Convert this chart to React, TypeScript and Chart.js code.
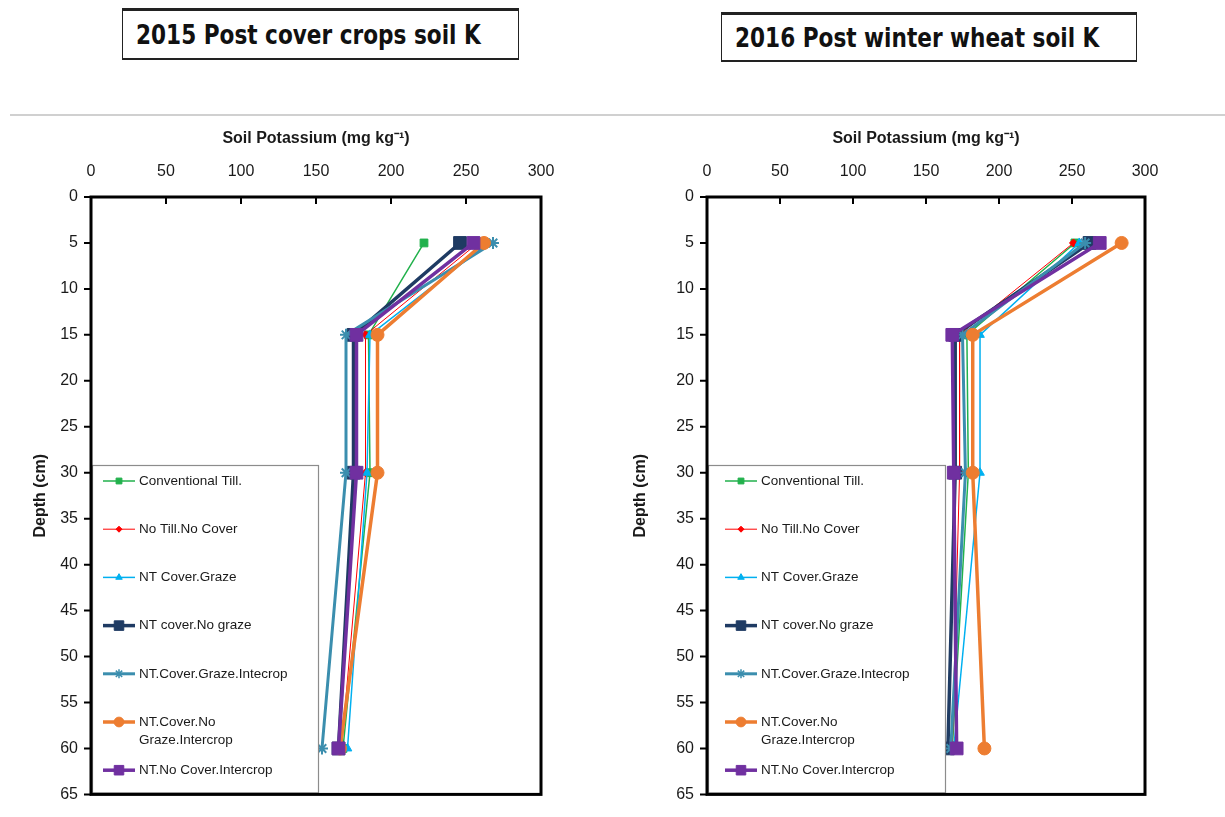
import React, { useEffect, useRef } from 'react';
import { Chart, registerables } from 'chart.js';
import { drawPoint } from 'chart.js/helpers';

Chart.register(...registerables);

// ---- data ----
const depthCm = [5, 15, 30, 60];
const depthTicks = [0, 5, 10, 15, 20, 25, 30, 35, 40, 45, 50, 55, 60, 65];
const potassiumTicks = [0, 50, 100, 150, 200, 250, 300];

const seriesNames = [
  'Conventional Till.',
  'No Till.No Cover',
  'NT Cover.Graze',
  'NT cover.No graze',
  'NT.Cover.Graze.Intecrop',
  'NT.Cover.No\nGraze.Intercrop',
  'NT.No Cover.Intercrop',
];

// 2015 Post cover crops soil K (mg/kg) at depths 5, 15, 30, 60 cm
const ct2015 = [222, 185, 186, 168];
const ntnc2015 = [258, 183, 183, 167];
const ntcg2015 = [265, 186, 184, 171];
const ntcng2015 = [246, 175, 175, 165];
const ntcgi2015 = [268, 170, 170, 154];
const ntcngi2015 = [262, 191, 191, 166];
const ntnci2015 = [255, 177, 177, 165];

// 2016 Post winter wheat soil K (mg/kg)
const ct2016 = [252, 178, 179, 168];
const ntnc2016 = [251, 173, 173, 168];
const ntcg2016 = [255, 187, 187, 169];
const ntcng2016 = [262, 170, 170, 165];
const ntcgi2016 = [259, 175, 177, 167];
const ntcngi2016 = [284, 182, 182, 190];
const ntnci2016 = [269, 168, 169, 171];

const series2015 = [ct2015, ntnc2015, ntcg2015, ntcng2015, ntcgi2015, ntcngi2015, ntnci2015];
const series2016 = [ct2016, ntnc2016, ntcg2016, ntcng2016, ntcgi2016, ntcngi2016, ntnci2016];

// ---- styles ----
const colors = ['#22B14C', '#FF0000', '#00B0F0', '#1F3B63', '#3B8EAE', '#ED7D31', '#7030A0'];
const lineWidths = [1.5, 1, 1.5, 3.5, 3, 3.5, 3.5];
const pointStyles = ['rect', 'rectRot', 'triangle', 'rect', 'star', 'circle', 'rect'];
const pointRadii = [5.5, 4, 5, 9, 6, 6.5, 9];

const tickFont = { family: '"Liberation Sans", Arial, sans-serif', size: 16 };
const titleFont = { family: '"Liberation Sans", Arial, sans-serif', size: 16, weight: 'bold' as const };

const decorPlugin = {
  id: 'panelDecor',
  afterDatasetsDraw(chart: any, _args: any, opts: any) {
    const { ctx, chartArea: a, scales } = chart;
    ctx.save();
    // legend box inside plot area
    const lx = a.left + 1;
    const ly = a.top + 268;
    const lw = opts.legendWidth;
    const lh = a.bottom - 2 - ly;
    ctx.fillStyle = '#ffffff';
    ctx.fillRect(lx, ly, lw, lh);
    ctx.strokeStyle = '#8c8c8c';
    ctx.lineWidth = 1.2;
    ctx.strokeRect(lx + 0.5, ly + 0.5, lw, lh);
    chart.data.datasets.forEach((ds: any, i: number) => {
      const y = ly + 16 + i * 48.2;
      const x0 = lx + opts.lineOffset;
      ctx.strokeStyle = ds.borderColor;
      ctx.lineWidth = ds.borderWidth;
      ctx.beginPath();
      ctx.moveTo(x0, y);
      ctx.lineTo(x0 + 32, y);
      ctx.stroke();
      ctx.fillStyle = ds.pointBackgroundColor;
      ctx.strokeStyle = ds.pointBorderColor;
      ctx.lineWidth = ds.pointStyle === 'star' ? 1.5 : 1;
      drawPoint(ctx, { pointStyle: ds.pointStyle, rotation: 0, radius: ds.pointRadius * 0.75, borderWidth: ctx.lineWidth } as any, x0 + 16, y);
      ctx.fillStyle = '#1a1a1a';
      ctx.font = '13.5px "Liberation Sans", Arial, sans-serif';
      ctx.textBaseline = 'middle';
      ctx.textAlign = 'left';
      String(ds.label).split('\n').forEach((t, k) => ctx.fillText(t, x0 + 36, y + k * 18));
    });
    // frame
    ctx.strokeStyle = '#000';
    ctx.lineWidth = 3;
    ctx.strokeRect(a.left, a.top, a.right - a.left, a.bottom - a.top);
    // tick marks
    ctx.lineWidth = 2;
    ctx.beginPath();
    scales.x.ticks.forEach((t: any) => {
      const px = scales.x.getPixelForValue(t.value);
      ctx.moveTo(px, a.top);
      ctx.lineTo(px, a.top + 7);
    });
    scales.y.ticks.forEach((t: any) => {
      const py = scales.y.getPixelForValue(t.value);
      ctx.moveTo(a.left - 7, py);
      ctx.lineTo(a.left, py);
    });
    ctx.stroke();
    ctx.restore();
  },
};

type PanelProps = {
  values: number[][];
  left: number;
  width: number;
  yAxisWidth: number;
  legendWidth: number;
  lineOffset: number;
  padRight: number;
};

function Panel({ values, left, width, yAxisWidth, legendWidth, lineOffset, padRight }: PanelProps) {
  const ref = useRef<HTMLCanvasElement | null>(null);
  useEffect(() => {
    if (!ref.current) return;
    const n = seriesNames.length;
    const chart = new Chart(ref.current, {
      type: 'scatter',
      data: {
        datasets: seriesNames.map((name, i) => ({
          label: name,
          data: depthCm.map((d, j) => ({ x: values[i][j], y: d })),
          showLine: true,
          borderColor: colors[i],
          backgroundColor: colors[i],
          pointBackgroundColor: colors[i],
          pointBorderColor: colors[i],
          borderWidth: lineWidths[i],
          pointStyle: pointStyles[i] as any,
          pointRadius: pointRadii[i],
          pointBorderWidth: pointStyles[i] === 'star' ? 2 : 1,
          tension: 0,
          order: n - i,
        })),
      },
      options: {
        responsive: false,
        animation: false,
        layout: { padding: { left: 27, right: padRight, top: 0, bottom: 14 } },
        plugins: {
          legend: { display: false },
          tooltip: { enabled: false },
          panelDecor: { legendWidth, lineOffset },
        } as any,
        scales: {
          x: {
            type: 'linear',
            position: 'top',
            min: 0,
            max: 300,
            afterBuildTicks: (s: any) => { s.ticks = potassiumTicks.map((v) => ({ value: v })); },
            afterFit: (s: any) => { s.height = 77; },
            grid: { display: false, drawTicks: false },
            border: { display: false },
            ticks: { font: tickFont, color: '#1a1a1a', padding: 16, maxRotation: 0 },
            title: {
              display: true,
              text: 'Soil Potassium (mg kg⁻¹)',
              font: titleFont,
              color: '#1a1a1a',
              padding: { top: 9, bottom: 4 },
            },
          },
          y: {
            type: 'linear',
            reverse: true,
            min: 0,
            max: 65,
            afterBuildTicks: (s: any) => { s.ticks = depthTicks.map((v) => ({ value: v })); },
            afterFit: (s: any) => { s.width = yAxisWidth; },
            grid: { display: false, drawTicks: false },
            border: { display: false },
            ticks: { font: tickFont, color: '#1a1a1a', padding: 13 },
            title: {
              display: true,
              text: 'Depth (cm)',
              font: titleFont,
              color: '#1a1a1a',
              padding: { top: 4, bottom: 4 },
            },
          },
        },
      },
      plugins: [decorPlugin],
    });
    return () => chart.destroy();
  }, [values, yAxisWidth, legendWidth, lineOffset, padRight]);
  return (
    <canvas
      ref={ref}
      width={width}
      height={697}
      style={{ position: 'absolute', left, top: 120, width, height: 697 }}
    />
  );
}

const boxTitleStyle: React.CSSProperties = {
  position: 'absolute',
  boxSizing: 'border-box',
  borderStyle: 'solid',
  borderColor: '#222',
  borderWidth: '3px 1.5px 2px 1.5px',
  background: '#fff',
  display: 'flex',
  alignItems: 'center',
  paddingLeft: 13,
  fontFamily: '"Liberation Sans Narrow", "DejaVu Sans Condensed", "Roboto", sans-serif',
  fontWeight: 'bold',
  fontSize: 27,
  color: '#111',
  whiteSpace: 'nowrap',
  overflow: 'hidden',
};

const squeeze: React.CSSProperties = {
  display: 'inline-block',
  transform: 'scaleX(0.89)',
  transformOrigin: 'left center',
};

export default function App() {
  return (
    <div style={{ position: 'fixed', left: 0, top: 0, width: 1225, height: 817, background: '#fff', overflow: 'hidden' }}>
      <div style={{ ...boxTitleStyle, left: 122, top: 8, width: 397, height: 52 }}>
        <span style={squeeze}>2015 Post cover crops soil K</span>
      </div>
      <div style={{ ...boxTitleStyle, left: 721, top: 12, width: 416, height: 50 }}>
        <span style={squeeze}>2016 Post winter wheat soil K</span>
      </div>
      <div style={{ position: 'absolute', left: 10, top: 114, width: 1215, height: 2, background: '#d0d0d0' }} />
      <Panel values={series2015} left={0} width={600} yAxisWidth={64} legendWidth={226} lineOffset={11} padRight={59} />
      <Panel values={series2016} left={600} width={625} yAxisWidth={80} legendWidth={237} lineOffset={17} padRight={80} />
    </div>
  );
}
